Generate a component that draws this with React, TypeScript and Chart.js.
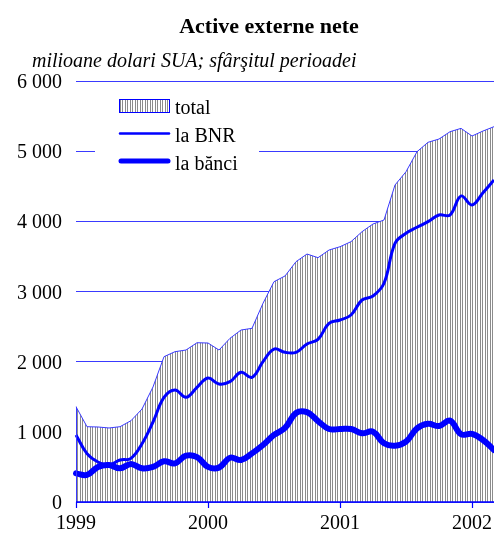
import React, { useEffect, useRef } from "react";
import { Chart, registerables } from "chart.js";

Chart.register(...registerables);

// ---- data ----
const years = ["1999", "2000", "2001", "2002"];
const categories: string[] = [];
for (const yr of years) {
  for (let m = 1; m <= 12; m++) {
    if (categories.length < 39) categories.push(`${yr}-${m}`);
  }
}
const totalValues = [
  1358, 1073, 1069, 1055, 1073, 1159, 1325, 1639, 2071, 2142, 2166, 2270,
  2266, 2166, 2333, 2451, 2475, 2832, 3140, 3221, 3425, 3534, 3482, 3591,
  3638, 3710, 3852, 3962, 4019, 4518, 4707, 4992, 5126, 5173, 5277, 5325,
  5216, 5287, 5349,
];
const bnrValues = [
  955, 690, 570, 527, 598, 622, 830, 1140, 1490, 1596, 1492, 1634,
  1766, 1682, 1715, 1848, 1777, 2000, 2180, 2133, 2133, 2252, 2318, 2547,
  2594, 2665, 2879, 2936, 3117, 3687, 3829, 3915, 3995, 4090, 4090, 4361,
  4233, 4408, 4589,
];
const bankValues = [
  408, 385, 500, 527, 480, 541, 480, 500, 580, 551, 660, 640,
  500, 490, 631, 598, 693, 812, 955, 1055, 1268, 1280, 1154, 1040,
  1040, 1040, 979, 1002, 836, 802, 859, 1050, 1115, 1083, 1159, 965,
  970, 884, 741,
];
const yTickValues = [0, 1000, 2000, 3000, 4000, 5000, 6000];
const yTickLabels = ["0", "1 000", "2 000", "3 000", "4 000", "5 000", "6 000"];
const seriesNames = ["total", "la BNR", "la bănci"];
const titleText = "Active externe nete";
const subtitleText = "milioane dolari SUA; sfârşitul perioadei";

const FONT = "'Liberation Serif', 'Times New Roman', serif";
const BLUE = "#0000ff";
const GRID_BLUE = "#3a3aff";

function makeHatch(): CanvasPattern | string {
  const c = document.createElement("canvas");
  c.width = 5;
  c.height = 4;
  const g = c.getContext("2d");
  if (!g) return "#ccc";
  g.fillStyle = "#ffffff";
  g.fillRect(0, 0, 5, 4);
  g.fillStyle = "#8c8c8c";
  g.fillRect(0, 0, 1, 4);
  g.fillRect(2, 0, 1, 4);
  return g.createPattern(c, "repeat") || "#ccc";
}

export default function App() {
  const ref = useRef<HTMLCanvasElement | null>(null);

  useEffect(() => {
    const canvas = ref.current;
    if (!canvas) return;
    const hatch = makeHatch();

    const decor = {
      id: "decor",
      afterDatasetsDraw(chart: any) {
        const { ctx, chartArea, scales } = chart;
        const x = scales.x;
        const y = scales.y;
        const y0 = y.getPixelForValue(0);
        ctx.save();
        // left edge of the total area
        const meta = chart.getDatasetMeta(0);
        const p0 = meta.data[0];
        if (p0) {
          const lx = Math.round(p0.x) + 0.5;
          ctx.strokeStyle = GRID_BLUE;
          ctx.lineWidth = 1;
          ctx.beginPath();
          ctx.moveTo(lx, p0.y);
          ctx.lineTo(lx, y0);
          ctx.stroke();
        }
        // x axis line
        ctx.strokeStyle = BLUE;
        ctx.lineWidth = 1.5;
        ctx.beginPath();
        ctx.moveTo(chartArea.left, y0);
        ctx.lineTo(chartArea.right, y0);
        ctx.stroke();
        // year ticks
        ctx.lineWidth = 1.2;
        years.forEach((_, i) => {
          const px = Math.round(x.getPixelForValue(i * 12)) + 0.5;
          ctx.beginPath();
          ctx.moveTo(px, y0);
          ctx.lineTo(px, y0 + 6);
          ctx.stroke();
        });
        ctx.restore();
      },
      afterDraw(chart: any) {
        const { ctx, chartArea, scales } = chart;
        const x = scales.x;
        const y = scales.y;
        const y0 = y.getPixelForValue(0);
        ctx.save();
        ctx.fillStyle = "#000";
        // title
        ctx.font = `bold 22px ${FONT}`;
        ctx.textAlign = "center";
        ctx.textBaseline = "alphabetic";
        ctx.fillText(titleText, 269, 33);
        // subtitle
        ctx.font = `italic 20px ${FONT}`;
        ctx.textAlign = "left";
        ctx.fillText(subtitleText, 32, 67);
        // y tick labels
        ctx.font = `20px ${FONT}`;
        ctx.textAlign = "right";
        yTickValues.forEach((v, i) => {
          ctx.fillText(yTickLabels[i], chartArea.left - 14, y.getPixelForValue(v) + 7);
        });
        // x labels
        ctx.textAlign = "center";
        years.forEach((yr, i) => {
          ctx.fillText(yr, x.getPixelForValue(i * 12), y0 + 27);
        });
        // legend
        ctx.fillStyle = "#ffffff";
        ctx.fillRect(95, 86, 164, 92);
        ctx.fillStyle = hatch as any;
        ctx.fillRect(119.5, 99.5, 50, 13);
        ctx.strokeStyle = BLUE;
        ctx.lineWidth = 1;
        ctx.strokeRect(119.5, 99.5, 50, 13);
        ctx.lineCap = "round";
        ctx.lineWidth = 2.5;
        ctx.beginPath();
        ctx.moveTo(120, 133.5);
        ctx.lineTo(169, 133.5);
        ctx.stroke();
        ctx.lineWidth = 5;
        ctx.beginPath();
        ctx.moveTo(121, 161);
        ctx.lineTo(168, 161);
        ctx.stroke();
        ctx.fillStyle = "#000";
        ctx.font = `20px ${FONT}`;
        ctx.textAlign = "left";
        ctx.fillText(seriesNames[0], 175, 114);
        ctx.fillText(seriesNames[1], 175, 142);
        ctx.fillText(seriesNames[2], 175, 170);
        ctx.restore();
      },
    };

    const chart = new Chart(canvas, {
      type: "line",
      data: {
        labels: categories,
        datasets: [
          {
            label: seriesNames[0],
            data: totalValues,
            borderColor: GRID_BLUE,
            borderWidth: 1,
            backgroundColor: hatch as any,
            fill: "origin",
            tension: 0,
            pointRadius: 0,
            order: 3,
          },
          {
            label: seriesNames[1],
            data: bnrValues,
            borderColor: BLUE,
            borderWidth: 3,
            fill: false,
            tension: 0.4,
            pointRadius: 0,
            order: 2,
          },
          {
            label: seriesNames[2],
            data: bankValues,
            borderColor: BLUE,
            borderWidth: 6,
            fill: false,
            tension: 0.4,
            pointRadius: 0,
            borderCapStyle: "round",
            order: 1,
          },
        ],
      },
      options: {
        responsive: false,
        animation: false,
        devicePixelRatio: 1,
        layout: { padding: { left: 76, top: 81, right: 0, bottom: 31 } },
        plugins: {
          legend: { display: false },
          title: { display: false },
          tooltip: { enabled: false },
        },
        scales: {
          x: {
            type: "category",
            offset: false,
            grid: { display: false, drawTicks: false },
            border: { display: false },
            ticks: { display: false },
          },
          y: {
            min: 0,
            max: 6000,
            grid: { color: GRID_BLUE, lineWidth: 1, drawTicks: false },
            border: { display: false },
            ticks: { display: false, stepSize: 1000 },
          },
        },
      },
      plugins: [decor],
    });

    return () => chart.destroy();
  }, []);

  return (
    <div style={{ position: "absolute", left: 0, top: 0, width: 494, height: 533, background: "#fff" }}>
      <canvas ref={ref} width={494} height={533} style={{ display: "block", width: 494, height: 533 }} />
    </div>
  );
}
